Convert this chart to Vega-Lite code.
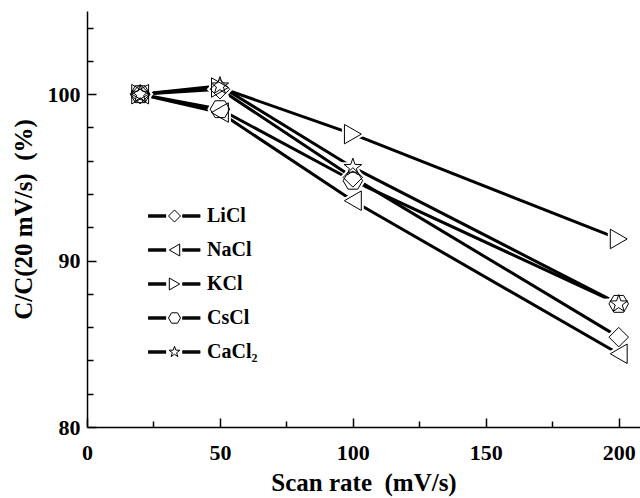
{
  "$schema": "https://vega.github.io/schema/vega-lite/v6.json",
  "width": 553,
  "height": 416,
  "autosize": {"type": "none"},
  "padding": {"left": 87, "top": 11, "right": 0, "bottom": 71},
  "background": "white",
  "config": {
    "view": {"stroke": null},
    "font": "Liberation Serif",
    "axis": {
      "domainColor": "black",
      "tickColor": "black",
      "labelColor": "black",
      "titleColor": "black",
      "grid": false,
      "labelFont": "Liberation Serif",
      "titleFont": "Liberation Serif",
      "labelFontWeight": "bold",
      "titleFontWeight": "bold",
      "labelFontSize": 22,
      "titleFontSize": 25
    }
  },
  "data": {
    "values": [
      {"salt": "LiCl", "rate": 20, "c": 100},
      {"salt": "LiCl", "rate": 50, "c": 100.3},
      {"salt": "LiCl", "rate": 100, "c": 95.0},
      {"salt": "LiCl", "rate": 200, "c": 85.4},
      {"salt": "NaCl", "rate": 20, "c": 100},
      {"salt": "NaCl", "rate": 50, "c": 98.9},
      {"salt": "NaCl", "rate": 100, "c": 93.6},
      {"salt": "NaCl", "rate": 200, "c": 84.4},
      {"salt": "KCl", "rate": 20, "c": 100},
      {"salt": "KCl", "rate": 50, "c": 100.4},
      {"salt": "KCl", "rate": 100, "c": 97.6},
      {"salt": "KCl", "rate": 200, "c": 91.3},
      {"salt": "CsCl", "rate": 20, "c": 100},
      {"salt": "CsCl", "rate": 50, "c": 99.1},
      {"salt": "CsCl", "rate": 100, "c": 94.8},
      {"salt": "CsCl", "rate": 200, "c": 87.4},
      {"salt": "CaCl₂", "rate": 20, "c": 100},
      {"salt": "CaCl₂", "rate": 50, "c": 100.5},
      {"salt": "CaCl₂", "rate": 100, "c": 95.6},
      {"salt": "CaCl₂", "rate": 200, "c": 87.4}
    ]
  },
  "layer": [
    {
      "mark": {"type": "line", "color": "black", "strokeWidth": 3},
      "encoding": {
        "x": {
          "field": "rate", "type": "quantitative",
          "scale": {"domain": [0, 208], "nice": false, "zero": false},
          "axis": {
            "orient": "bottom", "values": [0, 50, 100, 150, 200],
            "tickSize": -9, "tickWidth": 1.5, "domainWidth": 1.5,
            "labelPadding": 24, "labelFlush": false,
            "title": "Scan rate \u00a0(mV/s)", "titlePadding": 7
          }
        },
        "y": {
          "field": "c", "type": "quantitative",
          "scale": {"domain": [80, 105], "nice": false, "zero": false},
          "axis": {
            "orient": "left", "values": [80, 90, 100],
            "tickSize": -9, "tickWidth": 1.5, "domainWidth": 1.5,
            "labelPadding": 16, "labelFlush": false,
            "title": "C/C(20 mV/s) \u00a0(%)", "titlePadding": 11, "titleFontSize": 25
          }
        },
        "detail": {"field": "salt", "type": "nominal"}
      }
    },
    {
      "mark": {"type": "point", "filled": true, "fill": "white", "stroke": "white", "strokeWidth": 5, "opacity": 1, "size": 380},
      "encoding": {
        "x": {"field": "rate", "type": "quantitative", "axis": null},
        "y": {"field": "c", "type": "quantitative", "axis": null},
        "shape": {
          "field": "salt", "type": "nominal",
          "scale": {
            "domain": ["LiCl", "NaCl", "KCl", "CsCl", "CaCl₂"],
            "range": [
              "M-1,0L0,-1L1,0L0,1Z",
              "M-0.866,0L0.866,-1L0.866,1Z",
              "M0.866,0L-0.866,-1L-0.866,1Z",
              "M-1,0L-0.5,-0.866L0.5,-0.866L1,0L0.5,0.866L-0.5,0.866Z",
              "M0,-0.95L0.223,-0.308L0.903,-0.294L0.361,0.118L0.559,0.769L0,0.38L-0.559,0.769L-0.361,0.118L-0.903,-0.294L-0.223,-0.308Z"
            ]
          },
          "legend": null
        }
      }
    },
    {
      "mark": {"type": "point", "filled": false, "fill": "transparent", "stroke": "black", "strokeWidth": 1, "opacity": 1, "size": 380},
      "encoding": {
        "x": {
          "field": "rate", "type": "quantitative",
          "axis": {
            "orient": "bottom", "values": [25, 75, 125, 175],
            "tickSize": -6, "tickWidth": 1.5, "domain": false, "labels": false, "title": null
          }
        },
        "y": {
          "field": "c", "type": "quantitative",
          "axis": {
            "orient": "left", "values": [82, 84, 86, 88, 92, 94, 96, 98, 102, 104],
            "tickSize": -6, "tickWidth": 1.5, "domain": false, "labels": false, "title": null
          }
        },
        "shape": {
          "field": "salt", "type": "nominal",
          "scale": {
            "domain": ["LiCl", "NaCl", "KCl", "CsCl", "CaCl₂"],
            "range": [
              "M-1,0L0,-1L1,0L0,1Z",
              "M-0.866,0L0.866,-1L0.866,1Z",
              "M0.866,0L-0.866,-1L-0.866,1Z",
              "M-1,0L-0.5,-0.866L0.5,-0.866L1,0L0.5,0.866L-0.5,0.866Z",
              "M0,-0.95L0.223,-0.308L0.903,-0.294L0.361,0.118L0.559,0.769L0,0.38L-0.559,0.769L-0.361,0.118L-0.903,-0.294L-0.223,-0.308Z"
            ]
          },
          "legend": null
        }
      }
    },
    {
      "mark": {"type": "point", "filled": false, "fill": "transparent", "stroke": "black", "strokeWidth": 1, "opacity": 0, "size": 144},
      "encoding": {
        "x": {"field": "rate", "type": "quantitative", "axis": null},
        "y": {"field": "c", "type": "quantitative", "axis": null},
        "shape": {
          "field": "salt", "type": "nominal",
          "scale": {
            "domain": ["LiCl", "NaCl", "KCl", "CsCl", "CaCl₂"],
            "range": [
              "M-4.4,-0.2L-1.4,-0.2M-4.4,-0.1L-1.4,-0.1M-4.4,0L-1.4,0M-4.4,0.1L-1.4,0.1M-4.4,0.2L-1.4,0.2M1.3,-0.2L4.3,-0.2M1.3,-0.1L4.3,-0.1M1.3,0L4.3,0M1.3,0.1L4.3,0.1M1.3,0.2L4.3,0.2M-1,0L0,-1L1,0L0,1Z",
              "M-4.4,-0.2L-1.4,-0.2M-4.4,-0.1L-1.4,-0.1M-4.4,0L-1.4,0M-4.4,0.1L-1.4,0.1M-4.4,0.2L-1.4,0.2M1.3,-0.2L4.3,-0.2M1.3,-0.1L4.3,-0.1M1.3,0L4.3,0M1.3,0.1L4.3,0.1M1.3,0.2L4.3,0.2M-0.866,0L0.866,-1L0.866,1Z",
              "M-4.4,-0.2L-1.4,-0.2M-4.4,-0.1L-1.4,-0.1M-4.4,0L-1.4,0M-4.4,0.1L-1.4,0.1M-4.4,0.2L-1.4,0.2M1.3,-0.2L4.3,-0.2M1.3,-0.1L4.3,-0.1M1.3,0L4.3,0M1.3,0.1L4.3,0.1M1.3,0.2L4.3,0.2M0.866,0L-0.866,-1L-0.866,1Z",
              "M-4.4,-0.2L-1.4,-0.2M-4.4,-0.1L-1.4,-0.1M-4.4,0L-1.4,0M-4.4,0.1L-1.4,0.1M-4.4,0.2L-1.4,0.2M1.3,-0.2L4.3,-0.2M1.3,-0.1L4.3,-0.1M1.3,0L4.3,0M1.3,0.1L4.3,0.1M1.3,0.2L4.3,0.2M-1,0L-0.5,-0.866L0.5,-0.866L1,0L0.5,0.866L-0.5,0.866Z",
              "M-4.4,-0.2L-1.4,-0.2M-4.4,-0.1L-1.4,-0.1M-4.4,0L-1.4,0M-4.4,0.1L-1.4,0.1M-4.4,0.2L-1.4,0.2M1.3,-0.2L4.3,-0.2M1.3,-0.1L4.3,-0.1M1.3,0L4.3,0M1.3,0.1L4.3,0.1M1.3,0.2L4.3,0.2M0,-0.95L0.223,-0.308L0.903,-0.294L0.361,0.118L0.559,0.769L0,0.38L-0.559,0.769L-0.361,0.118L-0.903,-0.294L-0.223,-0.308Z"
            ]
          },
          "legend": {
            "title": null,
            "orient": "none",
            "legendX": 77.5,
            "legendY": 195,
            "padding": 0,
            "symbolSize": 144,
            "symbolOpacity": 1,
            "symbolStrokeWidth": 1,
            "symbolStrokeColor": "black",
            "symbolFillColor": "transparent",
            "labelFont": "Liberation Serif",
            "labelFontWeight": "bold",
            "labelFontSize": 20,
            "labelColor": "black",
            "labelOffset": 22.5,
            "rowPadding": 14,
            "labelLimit": 200,
            "encode": {
              "symbols": {
                "update": {
                  "opacity": {"value": 1},
                  "stroke": {"value": "black"},
                  "strokeWidth": {"value": 1},
                  "fill": {"value": "transparent"}
                }
              }
            }
          }
        }
      }
    }
  ],
  "resolve": {
    "axis": {"x": "independent", "y": "independent"},
    "scale": {"shape": "independent"}
  }
}
